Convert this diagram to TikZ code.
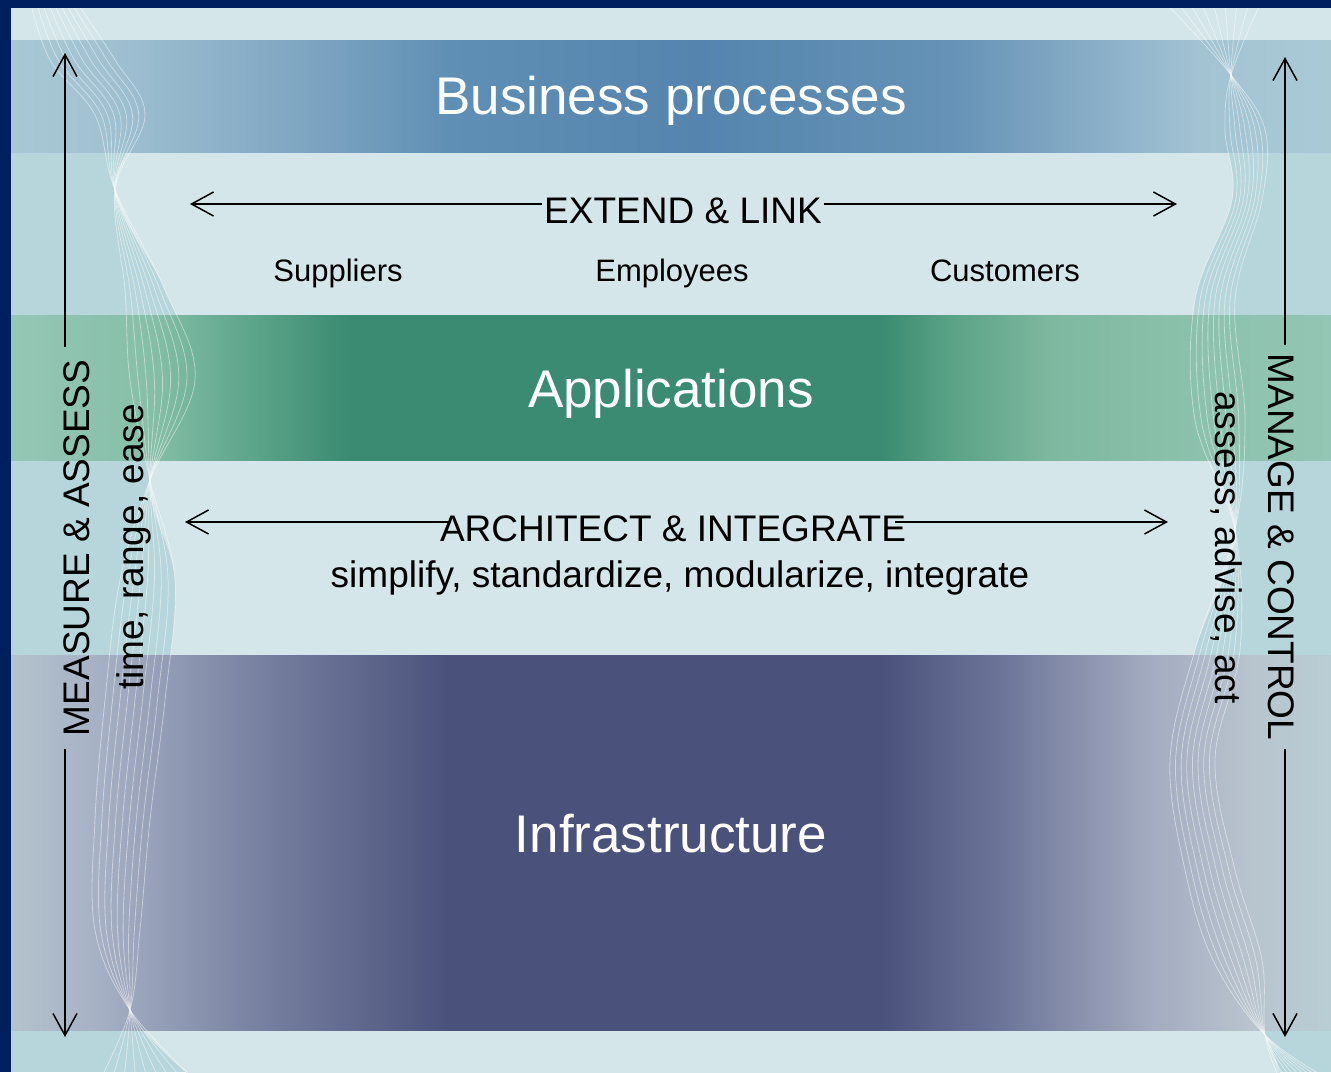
\documentclass[tikz,border=0pt]{standalone}
\usepackage{fontspec}
\setmainfont{Liberation Sans}
\usetikzlibrary{arrows.meta}
\definecolor{navy}{HTML}{001F5E}
\definecolor{bgdark}{HTML}{B7D6DB}
\definecolor{bglight}{HTML}{D5E6EA}
\definecolor{bz0}{HTML}{A9C8D4}\definecolor{bz1}{HTML}{A2C2D2}\definecolor{bz2}{HTML}{7FA6C2}
\definecolor{bz3}{HTML}{5F8FB4}\definecolor{bz4}{HTML}{5585AE}\definecolor{bz5}{HTML}{6592B6}
\definecolor{bz6}{HTML}{8AAFC8}\definecolor{bz7}{HTML}{A3C3D3}\definecolor{bz8}{HTML}{A9CAD5}
\definecolor{ap0}{HTML}{95C7B5}\definecolor{ap1}{HTML}{86BFA8}\definecolor{ap2}{HTML}{5DA58B}
\definecolor{ap3}{HTML}{3A8B71}\definecolor{ap4}{HTML}{3A8B71}\definecolor{ap5}{HTML}{5AA286}
\definecolor{ap6}{HTML}{7EB89F}\definecolor{ap7}{HTML}{8CC2AD}\definecolor{ap8}{HTML}{93C6B4}
\definecolor{in0}{HTML}{B3C3CC}\definecolor{in1}{HTML}{A6B0C4}\definecolor{in2}{HTML}{7A83A2}
\definecolor{in3}{HTML}{4A527C}\definecolor{in4}{HTML}{4A527C}\definecolor{in5}{HTML}{6C7598}
\definecolor{in6}{HTML}{A3ABC0}\definecolor{in7}{HTML}{B8C4CE}\definecolor{in8}{HTML}{B8CDD4}
\pgfdeclarehorizontalshading{bizshade}{100bp}{color(0bp)=(bz0); color(25bp)=(bz0); color(28.37bp)=(bz1); color(35.95bp)=(bz2); color(41.63bp)=(bz3); color(51.1bp)=(bz4); color(60.57bp)=(bz5); color(66.25bp)=(bz6); color(70.04bp)=(bz7); color(75bp)=(bz8); color(100bp)=(bz8)}
\pgfdeclarehorizontalshading{appshade}{100bp}{color(0bp)=(ap0); color(25bp)=(ap0); color(30.27bp)=(ap1); color(34.05bp)=(ap2); color(37.84bp)=(ap3); color(57.92bp)=(ap4); color(60.57bp)=(ap5); color(64.36bp)=(ap6); color(70.04bp)=(ap7); color(75bp)=(ap8); color(100bp)=(ap8)}
\pgfdeclarehorizontalshading{infshade}{100bp}{color(0bp)=(in0); color(25bp)=(in0); color(28.37bp)=(in1); color(34.05bp)=(in2); color(41.63bp)=(in3); color(57.92bp)=(in4); color(62.46bp)=(in5); color(68.14bp)=(in6); color(71.93bp)=(in7); color(75bp)=(in8); color(100bp)=(in8)}
\tikzset{
  title/.style={font=\fontsize{53}{64}\selectfont, text=white, inner sep=0pt, anchor=base},
  lbl/.style={font=\fontsize{37}{44}\selectfont, text=black, inner sep=0pt, anchor=base},
  smalllbl/.style={font=\fontsize{31}{37}\selectfont, text=black, inner sep=0pt, anchor=base},
  arr/.style={draw=black, line width=1.5pt, -{Straight Barb[length=22pt,width=24pt,line width=1.5pt]}},
  wave/.style={draw=white, opacity=0.45, line width=0.8pt}
}
\begin{document}
\begin{tikzpicture}[x=1pt,y=-1pt]
\useasboundingbox (0,0) rectangle (1331,1072);
\fill[navy] (0,0) rectangle (1331,1072);
\fill[bgdark] (11,8) rectangle (1331,1072);
\begin{scope}
\clip (11,8) rectangle (1331,1072);
\fill[bglight] plot[smooth, tension=0.6] coordinates {(75,0) (115,60) (145,115) (115,190) (165,290) (195,380) (150,480) (175,580) (165,700) (150,820) (140,930) (130,1010) (195,1080)}
  -- plot[smooth, tension=0.6] coordinates {(1282,1080) (1265,1035) (1213,960) (1185,870) (1170,760) (1195,650) (1235,530) (1195,420) (1195,300) (1232,200) (1225,130) (1231,75) (1163,0)} -- cycle;
\fill[bglight] (11,8) rectangle (1331,40);
% bands
\shade[shading=bizshade] (11,40) rectangle (1331,152);
\shade[shading=appshade] (11,315) rectangle (1331,460);
\shade[shading=infshade] (11,655) rectangle (1331,1030);
% waves
\foreach \t in {0,0.125,0.25,0.375,0.5,0.625,0.75,0.875,1}{
  \draw[wave] plot[smooth, tension=0.6] coordinates {({30+\t*45},0) ({50+\t*65},60) ({95+\t*50},115) (115,190) ({165-\t*40},290) ({195-\t*65},380) (150,480) ({120+\t*55},580) ({105+\t*60},700) ({95+\t*55},820) ({95+\t*45},930) (130,1010) ({195-\t*95},1080)};
  \draw[wave] plot[smooth, tension=0.6] coordinates {({1163+\t*99},0) (1231,75) ({1265-\t*40},130) ({1262-\t*30},200) ({1235-\t*40},300) ({1245-\t*50},420) (1235,530) ({1195+\t*45},650) ({1170+\t*45},760) ({1185+\t*50},870) ({1213+\t*49},960) (1265,1035) ({1330-\t*50},1080)};
}
\end{scope}
% band titles
\node[title] (tbiz) at (671,114) {Business processes};
\node[title] (tapp) at (671,407) {Applications};
\node[title] (tinf) at (671,852) {Infrastructure};
% extend & link
\node[lbl, inner xsep=2pt] (text1) at (683,223) {EXTEND \& LINK};
\coordinate (el) at (190,204);
\coordinate (er) at (1177,204);
\draw[arr] (text1.west |- el) -- (el);
\draw[arr] (text1.east |- er) -- (er);
\node[smalllbl] (tsup) at (338,281) {Suppliers};
\node[smalllbl] (temp) at (672,281) {Employees};
\node[smalllbl] (tcus) at (1005,281) {Customers};
% architect & integrate
\node[lbl] (tarch) at (673,541) {ARCHITECT \& INTEGRATE};
\coordinate (al) at (185,522);
\coordinate (ar) at (1168,522);
\draw[arr] ([xshift=9pt]tarch.west |- al) -- (al);
\draw[arr] ([xshift=-11pt]tarch.east |- ar) -- (ar);
\node[lbl] (tsimp) at (680,587) {simplify, standardize, modularize, integrate};
% left vertical
\node[lbl, rotate=90, inner xsep=13pt] (tmeas) at (89,548) {MEASURE \& ASSESS};
\node[lbl, rotate=90] (ttime) at (143,547) {time, range, ease};
\coordinate (mt) at (65,53);
\coordinate (mb) at (65,1037);
\draw[arr] (tmeas.east -| mt) -- (mt);
\draw[arr] (tmeas.west -| mb) -- (mb);
% right vertical
\node[lbl, rotate=-90, inner xsep=9pt] (tman) at (1268,547) {MANAGE \& CONTROL};
\node[lbl, rotate=-90] (tass) at (1215,547.5) {assess, advise, act};
\coordinate (rt) at (1285,57);
\coordinate (rb) at (1285,1037);
\draw[arr] (tman.west -| rt) -- (rt);
\draw[arr] (tman.east -| rb) -- (rb);
\end{tikzpicture}
\end{document}
